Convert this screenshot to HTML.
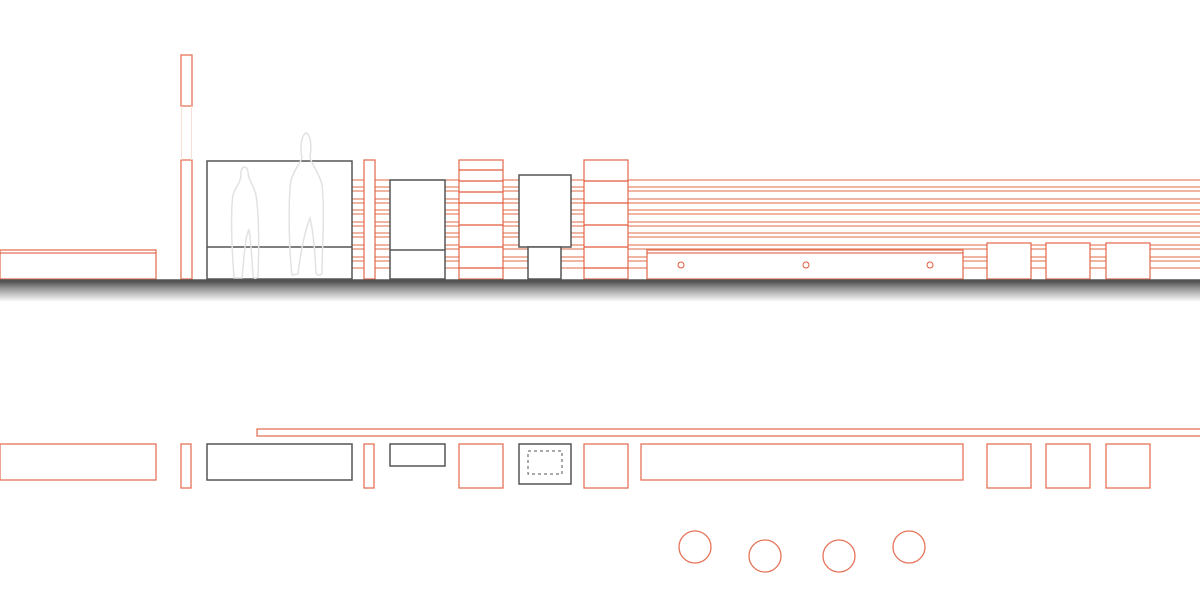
<!DOCTYPE html>
<html><head><meta charset="utf-8"><style>html,body{margin:0;padding:0;background:#fff;width:1200px;height:600px;overflow:hidden}</style></head>
<body>
<svg width="1200" height="600" viewBox="0 0 1200 600" xmlns="http://www.w3.org/2000/svg">
<defs>
<linearGradient id="g" x1="0" y1="0" x2="0" y2="1">
<stop offset="0" stop-color="#444"/><stop offset="0.4" stop-color="#999"/><stop offset="1" stop-color="#fff"/>
</linearGradient>
</defs>
<rect x="0" y="280" width="1200" height="22" fill="url(#g)"/>
<g stroke="#e8866a" stroke-width="1.2">
<line x1="352" y1="180" x2="1200" y2="180"/>
<line x1="352" y1="187" x2="1200" y2="187"/>
<line x1="352" y1="191" x2="1200" y2="191"/>
<line x1="352" y1="199" x2="1200" y2="199"/>
<line x1="352" y1="203" x2="1200" y2="203"/>
<line x1="352" y1="210" x2="1200" y2="210"/>
<line x1="352" y1="214" x2="1200" y2="214"/>
<line x1="352" y1="222" x2="1200" y2="222"/>
<line x1="352" y1="226" x2="1200" y2="226"/>
<line x1="352" y1="233" x2="1200" y2="233"/>
<line x1="352" y1="237" x2="1200" y2="237"/>
<line x1="352" y1="245" x2="1200" y2="245"/>
<line x1="352" y1="249" x2="1200" y2="249"/>
<line x1="352" y1="257" x2="1200" y2="257"/>
<line x1="352" y1="261" x2="1200" y2="261"/>
<line x1="352" y1="268" x2="1200" y2="268"/>
</g>
<g fill="#fff" stroke="#e05a3a" stroke-width="1.3" stroke-opacity="0.85">
<rect x="0" y="250" width="156" height="29"/>
<line x1="0" y1="253" x2="156" y2="253"/>
<rect x="181" y="55" width="11" height="51"/>
<rect x="181" y="160" width="11" height="119"/>
<rect x="364" y="160" width="11" height="119"/>
<rect x="459" y="160" width="44" height="119"/>
<rect x="584" y="160" width="44" height="119"/>
<rect x="647" y="250" width="316" height="29"/>
<line x1="647" y1="253" x2="963" y2="253"/>
<rect x="987" y="243" width="44" height="36"/>
<rect x="1046" y="243" width="44" height="36"/>
<rect x="1106" y="243" width="44" height="36"/>
</g>
<g stroke="#f8e0d6" stroke-width="1">
<line x1="181.5" y1="106" x2="181.5" y2="160"/>
<line x1="191.5" y1="106" x2="191.5" y2="160"/>
</g>
<g stroke="#e05a3a" stroke-width="1.3">
<line x1="459" y1="170" x2="503" y2="170"/><line x1="459" y1="181" x2="503" y2="181"/>
<line x1="459" y1="192" x2="503" y2="192"/><line x1="459" y1="203" x2="503" y2="203"/>
<line x1="459" y1="225" x2="503" y2="225"/><line x1="459" y1="247" x2="503" y2="247"/>
<line x1="459" y1="268" x2="503" y2="268"/>
<line x1="584" y1="181" x2="628" y2="181"/><line x1="584" y1="203" x2="628" y2="203"/>
<line x1="584" y1="225" x2="628" y2="225"/><line x1="584" y1="247" x2="628" y2="247"/>
<line x1="584" y1="268" x2="628" y2="268"/>
</g>
<g fill="none" stroke="#e05a3a" stroke-width="1">
<circle cx="681" cy="265" r="3"/><circle cx="806" cy="265" r="3"/><circle cx="930" cy="265" r="3"/>
</g>
<g fill="#fff" stroke="#555" stroke-width="1.5">
<rect x="207" y="161" width="145" height="118"/>
<line x1="207" y1="247" x2="352" y2="247"/>
<rect x="390" y="180" width="55" height="99"/>
<line x1="390" y1="250" x2="445" y2="250"/>
<rect x="519" y="175" width="52" height="72"/>
<rect x="528" y="247" width="33" height="32"/>
</g>
<g fill="none" stroke="#e2e2e2" stroke-width="1.5">
<path d="M234 278 C232 250 230 215 233 195 C236 185 240 185 241 175 C240 166 247 164 248 172 C248 180 254 185 256 195 C259 215 259 250 258 277 C256 279 254 279 253 276 C252 260 251 240 249 230 C245 235 244 260 242 278 Z"/>
<path d="M292 275 C289 250 288 200 291 180 C294 170 299 165 302 158 C300 150 301 135 306 133 C312 135 311 150 310 158 C313 166 320 175 322 185 C325 210 322 250 322 273 C320 276 318 276 316 273 C315 255 314 235 310 218 C305 230 300 255 298 274 Z"/>
</g>
<line x1="0" y1="280" x2="1200" y2="280" stroke="#555" stroke-width="1.5"/>

<g fill="none" stroke="#e05a3a" stroke-width="1.3" stroke-opacity="0.85">
<rect x="257" y="429" width="950" height="7"/>
<rect x="0" y="444" width="156" height="36"/>
<rect x="181" y="444" width="10" height="44"/>
<rect x="364" y="444" width="10" height="44"/>
<rect x="459" y="444" width="44" height="44"/>
<rect x="584" y="444" width="44" height="44"/>
<rect x="641" y="444" width="322" height="36"/>
<rect x="987" y="444" width="44" height="44"/>
<rect x="1046" y="444" width="44" height="44"/>
<rect x="1106" y="444" width="44" height="44"/>
<circle cx="695" cy="547" r="16"/>
<circle cx="765" cy="556" r="16"/>
<circle cx="839" cy="556" r="16"/>
<circle cx="909" cy="547" r="16"/>
</g>
<g fill="none" stroke="#555" stroke-width="1.5">
<rect x="207" y="444" width="145" height="36"/>
<rect x="390" y="444" width="55" height="22"/>
<rect x="519" y="444" width="52" height="40"/>
<rect x="528" y="451" width="34" height="23" stroke-dasharray="3,3" stroke-width="1"/>
</g>
</svg>
</body></html>
